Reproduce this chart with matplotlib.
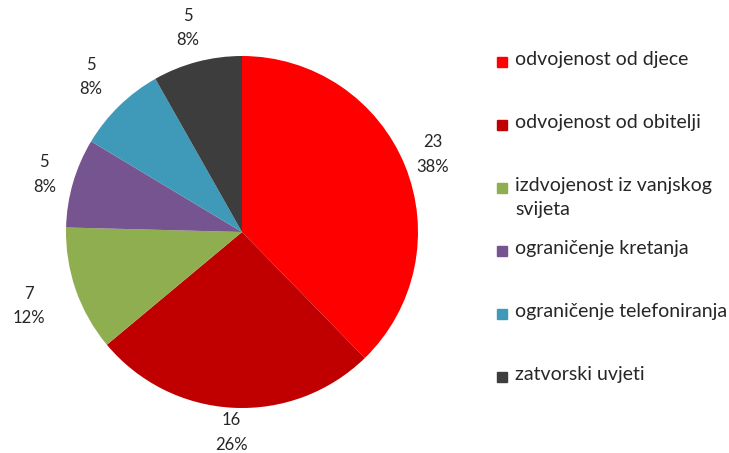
import numpy as np
import matplotlib.pyplot as plt
from matplotlib.patches import Rectangle

# data
categories = ['odvojenost od djece', 'odvojenost od obitelji',
              'izdvojenost iz vanjskog\nsvijeta', 'ograničenje kretanja',
              'ograničenje telefoniranja', 'zatvorski uvjeti']
values = [23, 16, 7, 5, 5, 5]
percents = [38, 26, 12, 8, 8, 8]
colors = ['#ff0000', '#c00000', '#8fae4f', '#76548f', '#3e9ab8', '#3d3d3d']

# label distance from the centre (in radii), per slice
label_dist = [1.17, 1.14, 1.28, 1.17, 1.23, 1.20]

plt.rcParams['font.family'] = ['Lato', 'DejaVu Sans']
txt_color = '#262626'

fig = plt.figure(figsize=(7.29, 4.53), dpi=100)
ax = fig.add_axes([66 / 729, 45 / 453, 352 / 729, 352 / 453])
wedges, _ = ax.pie(values, colors=colors, startangle=90, counterclock=False,
                   radius=1, wedgeprops=dict(linewidth=0))
ax.set_xlim(-1, 1)
ax.set_ylim(-1, 1)

# value / percent labels
for w, v, p, d in zip(wedges, values, percents, label_dist):
    ang = np.deg2rad((w.theta1 + w.theta2) / 2)
    ax.text(d * np.cos(ang), d * np.sin(ang), f'{v}\n{p}%', ha='center', va='center',
            multialignment='center', fontsize=12, linespacing=1.65, color=txt_color,
            clip_on=False)

# legend on the right
W, H = 729, 453
y0, step = 62, 63
for i, (lab, c) in enumerate(zip(categories, colors)):
    yc = y0 + i * step
    fig.patches.append(Rectangle((497 / W, 1 - (yc + 5) / H), 10 / W, 10 / H,
                                 transform=fig.transFigure, color=c))
    fig.text(515 / W, 1 - (yc - 11) / H, lab, ha='left', va='top', fontsize=14,
             linespacing=1.5, color=txt_color)

fig.savefig('out.png', dpi=100)
